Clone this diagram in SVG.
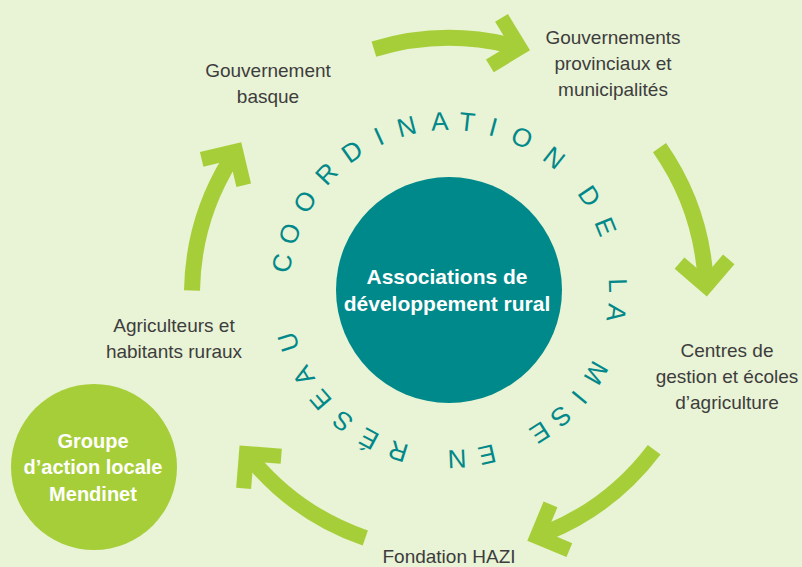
<svg xmlns="http://www.w3.org/2000/svg" width="802" height="567" viewBox="0 0 802 567">
<style>
.lbl{font-family:"Liberation Sans",Arial,sans-serif;font-size:19px;fill:#3d3d3d;text-anchor:middle}
.wht{font-family:"Liberation Sans",Arial,sans-serif;font-weight:bold;fill:#ffffff;text-anchor:middle}
.ring{font-family:"Liberation Sans",Arial,sans-serif;font-size:26px;fill:#00888a;text-anchor:middle}
.arr{fill:none;stroke:#a6ce39;stroke-width:16;stroke-linecap:butt;marker-end:url(#chev)}
</style>
<defs>
<marker id="chev" markerUnits="userSpaceOnUse" viewBox="-45 -35 50 70" markerWidth="50" markerHeight="70" refX="-21.2" refY="0" orient="auto" overflow="visible">
<path d="M0 0 L-30 -30 L-40.6 -19.4 L-21.2 0 L-40.6 19.4 L-30 30 Z" fill="#a6ce39"/>
</marker>
</defs>
<rect x="0" y="0" width="802" height="567" fill="#e9f3d5"/>
<g id="connectors">
<path class="arr" d="M373.9 49.2 A257 257 0 0 1 509.4 45.2"/>
<path class="arr" d="M659.5 147.6 A257 257 0 0 1 705.2 275.3"/>
<path class="arr" d="M654.2 449.7 A257 257 0 0 1 546.9 532.6"/>
<path class="arr" d="M365.3 538.0 A257 257 0 0 1 253.3 461.6"/>
<path class="arr" d="M192.0 290.5 A257 257 0 0 1 230.1 160.3"/>
</g>
<g id="ring-text" class="ring">
<text x="449" y="130" transform="rotate(-80.8 449 290)">C</text>
<text x="449" y="130" transform="rotate(-70.5 449 290)">O</text>
<text x="449" y="130" transform="rotate(-58.5 449 290)">O</text>
<text x="449" y="130" transform="rotate(-46.5 449 290)">R</text>
<text x="449" y="130" transform="rotate(-35 449 290)">D</text>
<text x="449" y="130" transform="rotate(-24.5 449 290)">I</text>
<text x="449" y="130" transform="rotate(-14.5 449 290)">N</text>
<text x="449" y="130" transform="rotate(-3.2 449 290)">A</text>
<text x="449" y="130" transform="rotate(6.2 449 290)">T</text>
<text x="449" y="130" transform="rotate(15.2 449 290)">I</text>
<text x="449" y="130" transform="rotate(25.6 449 290)">O</text>
<text x="449" y="130" transform="rotate(38.5 449 290)">N</text>
<text x="449" y="130" transform="rotate(56.2 449 290)">D</text>
<text x="449" y="130" transform="rotate(68 449 290)">E</text>
<text x="449" y="130" transform="rotate(88.5 449 290)">L</text>
<text x="449" y="130" transform="rotate(97.8 449 290)">A</text>
<text x="449" y="130" transform="rotate(119.5 449 290)">M</text>
<text x="449" y="130" transform="rotate(129.5 449 290)">I</text>
<text x="449" y="130" transform="rotate(138.5 449 290)">S</text>
<text x="449" y="130" transform="rotate(147.5 449 290)">E</text>
<text x="449" y="130" transform="rotate(167 449 290)">E</text>
<text x="449" y="130" transform="rotate(177.3 449 290)">N</text>
<text x="449" y="130" transform="rotate(197.5 449 290)">R</text>
<text x="449" y="130" transform="rotate(208.3 449 290)">É</text>
<text x="449" y="130" transform="rotate(219 449 290)">S</text>
<text x="449" y="130" transform="rotate(229.5 449 290)">E</text>
<text x="449" y="130" transform="rotate(239.5 449 290)">A</text>
<text x="449" y="130" transform="rotate(252 449 290)">U</text>
</g>
<g id="node-associations">
<circle cx="449" cy="290" r="113" fill="#00898a"/>
<text class="wht" font-size="21" x="447" y="284">Associations de</text>
<text class="wht" font-size="21" x="447" y="311">développement rural</text>
</g>
<g id="node-gal">
<circle cx="94" cy="467" r="83" fill="#a6ce39"/>
<text class="wht" font-size="20" x="93" y="448">Groupe</text>
<text class="wht" font-size="20" x="93" y="474">d’action locale</text>
<text class="wht" font-size="20" x="93" y="501">Mendinet</text>
</g>
<g id="node-gouvernement-basque">
<text class="lbl" x="268" y="77">Gouvernement</text>
<text class="lbl" x="268" y="103">basque</text>
</g>
<g id="node-gouvernements-provinciaux">
<text class="lbl" x="613" y="44">Gouvernements</text>
<text class="lbl" x="613" y="70">provinciaux et</text>
<text class="lbl" x="613" y="96">municipalités</text>
</g>
<g id="node-centres">
<text class="lbl" x="727" y="357">Centres de</text>
<text class="lbl" x="727" y="383">gestion et écoles</text>
<text class="lbl" x="727" y="409">d’agriculture</text>
</g>
<g id="node-hazi">
<text class="lbl" x="449" y="563">Fondation HAZI</text>
</g>
<g id="node-agriculteurs">
<text class="lbl" x="174" y="332">Agriculteurs et</text>
<text class="lbl" x="174" y="358">habitants ruraux</text>
</g>
</svg>
